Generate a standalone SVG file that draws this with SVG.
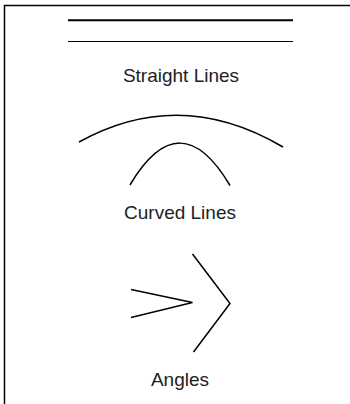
<svg xmlns="http://www.w3.org/2000/svg" width="350" height="404" viewBox="0 0 350 404">
<style>
.ln{fill:none;stroke:#000;stroke-width:1.5}
.lbl{font-family:"Liberation Sans",Arial,sans-serif;font-size:19px;fill:#222;text-anchor:middle}
</style>
<rect x="0" y="0" width="350" height="404" fill="#fff"/>
<rect x="4.5" y="5.5" width="360" height="420" fill="none" stroke="#000" stroke-width="1.5"/>
<g id="straight-lines">
<line x1="68" y1="20.3" x2="293" y2="20.3" stroke="#000" stroke-width="2"/>
<line x1="68" y1="41.5" x2="293" y2="41.5" stroke="#000" stroke-width="1"/>
<text class="lbl" x="181" y="82">Straight Lines</text>
</g>
<g id="curved-lines">
<path class="ln" d="M79,142 Q180,86 283,147"/>
<path class="ln" d="M130,185 Q180,101 230,185.5"/>
<text class="lbl" x="180" y="219">Curved Lines</text>
</g>
<g id="angles">
<polyline class="ln" points="131,289.5 192.5,302.5 131,317.5"/>
<polyline class="ln" points="192.5,254 230,303.5 193.5,352"/>
<text class="lbl" x="180" y="386">Angles</text>
</g>
</svg>
